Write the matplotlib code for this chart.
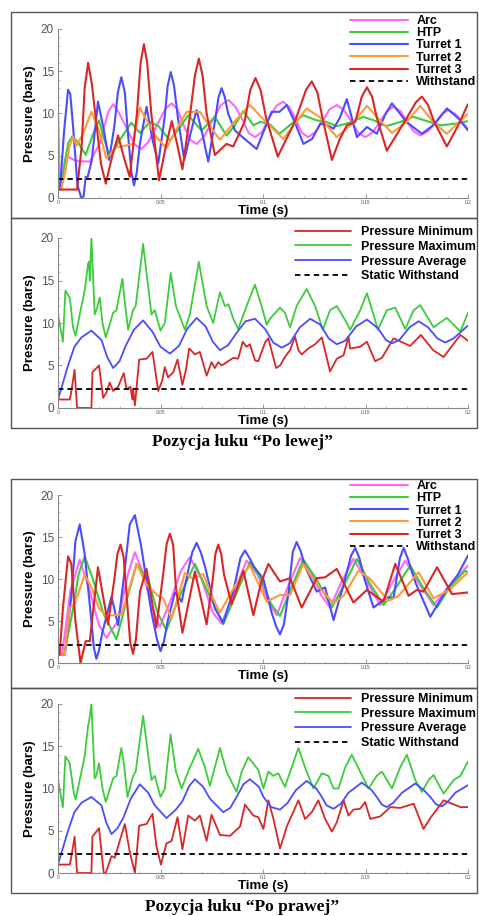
import numpy as np
import matplotlib
matplotlib.use('Agg')
import matplotlib.pyplot as plt
from matplotlib.patches import Rectangle
from matplotlib.ticker import MultipleLocator

plt.rcParams['font.family'] = ['Liberation Sans', 'DejaVu Sans']

# each series: (time in ms, pressure in bars)
# --- left arc position, turret pressures ---
l_arc = [(0, 10.5), (0.8, 1.5), (4.0, 5.0), (7.0, 4.6), (9.0, 4.4), (15.5, 4.3), (20.5, 6.5),
         (24.5, 10.2), (26.9, 11.1), (29.5, 10.2), (33.0, 8.5), (37.5, 6.3), (40.7, 5.8),
         (44.0, 6.6), (48.0, 8.5), (52.5, 10.6), (55.4, 11.2), (58.3, 10.5), (61.0, 8.8),
         (64.5, 6.9), (67.6, 6.4), (71.0, 7.2), (75.0, 9.0), (79.5, 11.0), (83.1, 11.6),
         (86.5, 10.8), (89.5, 9.5), (93.0, 7.7), (96.1, 7.2), (99.5, 7.8), (103.0, 9.5),
         (106.5, 10.9), (109.9, 11.4), (113.0, 10.7), (116.0, 9.3), (119.0, 7.7), (122.1, 7.2),
         (125.5, 7.8), (129.0, 9.1), (132.5, 10.5), (136.0, 11.0), (139.5, 10.4), (143.0, 9.1),
         (146.5, 7.7), (150.0, 7.2), (153.5, 7.8), (157.0, 9.0), (160.5, 10.3), (163.7, 10.8),
         (167.0, 10.3), (170.0, 9.1), (173.5, 7.9), (176.7, 7.4), (180.5, 7.9), (184.0, 8.9),
         (187.5, 10.0), (190.6, 10.4), (194.0, 9.9), (200, 8.2)]
l_htp = [(1.5, 1.0), (3.5, 4.5), (5.0, 6.5), (7.0, 7.3), (10.0, 6.5), (13.5, 5.1), (17.0, 7.5),
         (20.0, 9.2), (22.5, 7.0), (25.2, 4.9), (30.5, 7.0), (35.8, 8.9), (40.0, 7.7), (44.8, 9.0),
         (49.0, 8.5), (54.6, 6.8), (59.0, 8.2), (63.5, 9.8), (70.0, 8.0), (76.5, 9.6), (82.2, 7.4),
         (86.0, 8.5), (90.4, 10.3), (95.3, 8.6), (98.5, 9.0), (103.0, 8.8), (108.0, 7.6),
         (114.0, 8.8), (119.7, 9.8), (126.0, 9.2), (131.0, 9.0), (136.0, 8.5), (142.0, 8.9),
         (148.8, 9.6), (154.0, 9.2), (160.0, 8.5), (167.0, 9.0), (173.5, 9.6), (180.0, 9.1),
         (186.5, 8.6), (194.0, 8.8), (200, 9.1)]
l_t1 = [(0, 1.0), (1.0, 1.2), (3.0, 8.0), (4.9, 12.8), (6.0, 12.3), (7.5, 8.0), (9.5, 1.5),
        (11.4, 0.0), (12.5, 0.2), (13.5, 2.5), (14.5, 2.5), (16.5, 4.5), (19.5, 11.4), (22.0, 8.5),
        (24.9, 4.5), (27.5, 8.5), (29.2, 12.5), (30.9, 14.3), (32.6, 12.5), (34.0, 8.0),
        (35.8, 3.0), (37.1, 1.5), (38.4, 3.0), (40.0, 6.5), (43.2, 10.8), (46.0, 7.0), (48.9, 4.1),
        (52.0, 9.5), (53.5, 13.3), (55.0, 14.9), (56.6, 13.3), (58.5, 9.5), (61.6, 4.5),
        (64.5, 7.5), (67.6, 10.4), (70.5, 7.5), (73.3, 4.3), (76.5, 9.0), (78.3, 11.9),
        (79.8, 13.0), (81.3, 12.0), (83.0, 10.0), (86.3, 8.0), (91.0, 7.0), (96.9, 5.8),
        (100.5, 8.0), (104.2, 10.2), (108.0, 10.2), (111.6, 11.0), (115.5, 9.0), (119.7, 6.4),
        (124.0, 7.0), (127.9, 8.8), (131.5, 8.6), (134.4, 8.2), (137.5, 9.5), (140.9, 11.7),
        (145.8, 7.2), (150.7, 8.4), (155.5, 7.6), (159.5, 9.8), (162.9, 11.2), (170.0, 9.0),
        (177.5, 7.6), (183.5, 8.7), (189.7, 10.6), (195.0, 9.5), (200, 8.0)]
l_t2 = [(1.5, 1.0), (3.5, 3.0), (5.5, 6.0), (7.3, 7.3), (9.0, 6.2), (12.0, 7.5), (16.3, 10.2),
        (20.0, 8.0), (23.6, 4.7), (28.5, 6.0), (33.0, 6.2), (36.6, 6.4), (39.9, 10.7), (44.8, 8.5),
        (48.0, 7.2), (52.9, 5.9), (57.0, 7.8), (62.7, 10.2), (69.2, 10.2), (74.0, 8.5), (79.0, 6.9),
        (86.0, 9.0), (93.6, 11.0), (101.5, 9.0), (109.9, 7.0), (115.5, 8.8), (121.3, 10.6),
        (128.0, 9.5), (136.0, 7.2), (143.5, 8.8), (150.7, 10.9), (157.0, 9.2), (162.9, 7.7),
        (170.0, 9.0), (176.7, 10.9), (183.0, 9.0), (189.7, 7.6), (200, 10.0)]
l_t3 = [(0, 1.0), (9.3, 1.0), (11.5, 6.0), (13.0, 13.0), (14.7, 16.0), (16.5, 13.5), (21.0, 4.0),
        (23.3, 1.7), (26.5, 5.0), (29.3, 7.4), (32.5, 4.5), (35.0, 2.5), (38.5, 10.0), (40.3, 16.0),
        (41.9, 18.2), (43.5, 16.0), (45.5, 10.0), (49.3, 2.1), (52.5, 6.0), (55.5, 9.1), (58.0, 6.5),
        (60.7, 3.4), (64.5, 10.0), (66.8, 14.5), (68.7, 16.5), (70.5, 14.5), (72.5, 10.0),
        (76.5, 5.1), (82.2, 6.4), (85.5, 6.1), (91.0, 9.0), (93.8, 12.8), (96.3, 14.2), (98.8, 12.8),
        (101.5, 9.5), (107.2, 4.9), (115.5, 9.0), (121.0, 12.8), (123.8, 13.8), (126.5, 12.5),
        (129.0, 9.5), (133.6, 4.5), (137.5, 7.0), (140.9, 8.6), (145.0, 9.0), (148.2, 12.0),
        (150.7, 13.1), (153.2, 12.0), (155.5, 9.5), (160.4, 5.6), (169.0, 9.0), (174.5, 11.3),
        (177.5, 12.0), (180.5, 11.0), (183.5, 9.0), (189.7, 6.1), (195.0, 8.5), (200, 11.1)]

# --- left arc position, min / max / average ---
l_min = [(0, 1.0), (5.7, 1.0), (6.2, 1.5), (8.1, 4.5), (9.3, 0.0), (16.3, 0.0), (16.8, 4.2),
         (20.0, 5.0), (22.0, 1.2), (23.6, 1.8), (25.2, 3.0), (26.9, 2.0), (29.3, 2.5), (32.1, 4.1),
         (33.4, 2.2), (35.3, 2.5), (36.3, 1.0), (36.6, 2.3), (37.5, 0.3), (39.6, 5.7), (43.2, 5.8),
         (46.1, 6.6), (48.9, 2.0), (50.8, 3.2), (52.1, 4.8), (53.7, 3.6), (56.2, 4.2), (58.3, 5.7),
         (60.7, 2.7), (62.4, 4.5), (64.0, 7.0), (66.8, 6.3), (69.2, 6.6), (72.5, 3.8), (74.9, 5.4),
         (76.5, 4.7), (78.2, 5.4), (79.8, 5.0), (85.5, 5.9), (87.9, 5.8), (90.1, 7.8), (92.0, 7.2),
         (93.6, 7.5), (96.1, 5.6), (97.7, 5.5), (101.0, 7.7), (102.6, 8.2), (106.4, 4.7),
         (108.3, 5.0), (110.7, 6.0), (113.2, 6.8), (115.6, 8.4), (117.3, 6.8), (118.9, 6.3),
         (122.1, 7.0), (125.4, 7.5), (128.7, 8.3), (132.7, 4.3), (136.0, 5.8), (139.3, 6.2),
         (141.7, 8.4), (142.5, 7.0), (147.4, 7.2), (150.7, 7.8), (154.7, 5.5), (158.0, 5.9),
         (163.7, 8.2), (171.8, 7.3), (177.0, 8.6), (183.0, 6.8), (188.1, 6.0), (196.3, 8.6),
         (200, 7.9)]
l_max = [(0, 11.0), (2.4, 7.8), (3.6, 13.8), (5.7, 13.0), (6.0, 12.5), (7.3, 9.5), (8.6, 8.5),
         (10.6, 11.0), (13.0, 13.8), (14.7, 17.0), (15.1, 17.2), (15.5, 15.0), (16.3, 20.0),
         (17.9, 11.0), (18.7, 11.5), (20.4, 13.0), (21.7, 10.0), (23.3, 8.3), (26.9, 11.2),
         (28.5, 11.5), (31.4, 15.2), (32.1, 13.5), (34.2, 9.2), (36.6, 11.5), (37.9, 12.0),
         (41.5, 19.3), (45.6, 11.0), (47.2, 11.5), (50.0, 9.1), (52.1, 10.0), (55.0, 15.9),
         (57.5, 12.0), (61.9, 9.2), (64.3, 11.0), (68.7, 17.2), (72.5, 12.0), (75.7, 10.0),
         (79.0, 13.6), (81.4, 12.0), (83.1, 12.2), (85.5, 10.5), (87.9, 9.3), (92.0, 12.0),
         (96.1, 14.5), (99.3, 12.0), (101.8, 9.8), (103.4, 10.5), (108.3, 11.8), (110.7, 11.2),
         (113.2, 9.5), (116.4, 12.0), (121.3, 14.0), (125.4, 12.0), (129.2, 9.2), (132.7, 11.5),
         (136.0, 12.0), (140.9, 10.0), (142.5, 9.2), (147.4, 11.5), (150.7, 13.5), (153.9, 11.0),
         (156.0, 9.2), (160.4, 11.5), (164.5, 11.8), (169.4, 9.3), (173.5, 11.5), (176.7, 12.1),
         (183.2, 9.5), (189.7, 10.6), (196.3, 9.0), (200, 11.2)]
l_avg = [(0, 1.0), (4.9, 5.0), (8.0, 7.2), (11.4, 8.3), (16.3, 9.1), (21.2, 8.0), (24.0, 6.0),
         (26.9, 4.7), (30.0, 5.5), (33.0, 7.3), (37.0, 9.2), (41.5, 10.3), (46.0, 9.0), (50.0, 7.2),
         (54.6, 6.4), (59.0, 7.3), (63.0, 9.3), (67.6, 10.6), (72.0, 9.6), (75.5, 7.8), (79.0, 6.8),
         (83.0, 7.4), (87.0, 8.8), (91.5, 10.2), (96.1, 10.5), (101.0, 9.3), (105.0, 7.7),
         (109.1, 7.1), (113.0, 7.6), (118.0, 9.5), (123.0, 10.5), (128.0, 9.8), (132.0, 8.2),
         (136.0, 7.5), (140.0, 7.9), (145.5, 9.6), (150.7, 10.4), (156.0, 9.4), (160.0, 8.0),
         (162.9, 7.6), (166.5, 8.0), (171.5, 9.5), (175.9, 10.2), (180.5, 9.5), (185.0, 8.2),
         (188.9, 7.7), (193.0, 8.2), (200, 9.7)]

# --- right arc position, turret pressures ---
r_arc = [(0, 1.0), (2.0, 1.0), (6.0, 8.5), (10.6, 12.3), (15.0, 9.0), (20.0, 4.5), (23.6, 3.0),
         (29.3, 5.0), (34.0, 10.5), (37.5, 13.2), (41.0, 11.0), (46.0, 6.5), (49.7, 4.3),
         (55.0, 7.5), (60.0, 11.0), (64.3, 12.6), (70.0, 10.0), (75.5, 6.0), (79.8, 4.7),
         (86.0, 8.5), (92.0, 12.2), (97.5, 10.5), (102.0, 7.5), (106.7, 5.7), (112.0, 9.0),
         (118.1, 12.5), (124.0, 10.5), (128.5, 8.0), (132.7, 6.6), (138.0, 9.5), (144.1, 12.4),
         (150.0, 10.0), (157.2, 6.9), (163.0, 9.5), (169.4, 12.2), (176.0, 9.5), (183.2, 6.9),
         (192.0, 9.5), (200, 11.6)]
r_htp = [(0, 1.0), (3.0, 1.0), (7.0, 6.0), (10.0, 10.5), (13.0, 12.7), (17.0, 10.0), (22.0, 6.0),
         (28.5, 2.8), (33.0, 7.0), (38.3, 11.8), (44.0, 10.0), (48.5, 6.0), (52.9, 3.9), (58.5, 7.5),
         (66.8, 11.8), (73.0, 8.5), (80.6, 4.6), (86.5, 8.0), (93.6, 12.0), (99.0, 10.0),
         (104.0, 7.0), (108.3, 5.6), (113.0, 8.5), (119.7, 12.3), (126.0, 10.0), (133.6, 6.6),
         (140.0, 9.5), (145.8, 12.4), (152.0, 9.5), (158.8, 6.9), (165.0, 9.0), (171.8, 11.6),
         (178.0, 9.0), (184.9, 6.6), (191.0, 9.0), (198.7, 11.0), (200, 10.8)]
r_t1 = [(0, 1.0), (3.3, 1.0), (6.5, 8.0), (8.5, 14.5), (10.6, 16.5), (13.0, 13.0), (16.3, 5.0),
        (17.5, 1.8), (18.7, 0.5), (20.0, 1.5), (21.5, 3.5), (26.1, 7.9), (29.3, 4.5), (32.5, 11.0),
        (35.0, 16.5), (37.5, 17.6), (40.5, 14.0), (45.6, 6.0), (48.3, 2.8), (50.0, 1.4),
        (51.7, 2.6), (53.5, 5.0), (57.0, 8.4), (60.3, 7.3), (63.5, 11.0), (65.5, 13.2),
        (67.6, 14.3), (69.6, 13.2), (71.7, 11.5), (76.5, 6.5), (80.6, 4.8), (85.5, 8.5),
        (89.0, 12.5), (91.2, 13.4), (93.4, 12.5), (95.5, 11.5), (100.2, 10.0), (104.2, 6.0),
        (106.5, 4.3), (108.3, 3.4), (110.2, 4.6), (112.5, 8.5), (114.5, 13.2), (116.4, 14.4),
        (118.4, 13.3), (120.5, 11.5), (126.2, 8.5), (130.3, 9.0), (134.4, 5.1), (139.5, 9.5),
        (143.0, 12.8), (145.0, 13.7), (147.0, 12.5), (149.5, 10.0), (153.9, 6.6), (160.4, 7.8),
        (163.7, 7.8), (166.8, 12.5), (168.6, 13.7), (170.5, 12.5), (174.5, 9.5), (181.6, 5.5),
        (189.7, 8.8), (195.0, 10.5), (200, 12.8)]
r_t2 = [(0, 1.0), (3.3, 1.0), (5.7, 6.6), (8.1, 7.0), (13.0, 10.5), (16.3, 9.0), (20.0, 6.5),
        (23.6, 5.6), (27.7, 5.7), (31.0, 5.8), (38.3, 11.8), (43.2, 9.3), (48.9, 8.0), (51.3, 7.7),
        (55.4, 5.3), (61.9, 10.7), (66.0, 10.0), (70.8, 10.6), (75.0, 8.0), (79.0, 6.0), (86.3, 9.2),
        (93.6, 11.6), (101.8, 7.3), (108.3, 8.1), (113.2, 8.1), (119.7, 11.8), (126.2, 9.3),
        (134.4, 7.1), (139.3, 8.0), (146.6, 11.0), (152.3, 10.0), (161.2, 7.4), (166.1, 8.0),
        (175.9, 10.8), (183.2, 7.7), (191.4, 8.8), (200, 10.8)]
r_t3 = [(0, 1.0), (0.8, 1.0), (2.4, 6.5), (4.9, 12.7), (6.5, 11.8), (8.5, 5.0), (11.0, 0.0),
        (13.5, 2.6), (15.5, 2.6), (19.5, 11.4), (24.4, 4.6), (27.5, 10.0), (29.0, 13.0),
        (30.5, 14.1), (32.0, 12.6), (33.5, 8.0), (35.2, 2.5), (36.6, 1.1), (38.0, 2.8), (40.0, 8.5),
        (43.2, 11.2), (48.0, 4.2), (51.5, 11.0), (53.0, 14.2), (54.6, 15.4), (56.2, 14.0),
        (57.5, 9.0), (60.7, 3.6), (66.8, 10.9), (72.5, 4.6), (75.5, 10.0), (76.8, 13.0),
        (78.2, 14.1), (79.6, 13.0), (81.0, 10.5), (84.7, 7.0), (90.4, 11.0), (95.3, 5.7),
        (99.0, 9.5), (102.6, 11.8), (108.3, 9.7), (113.2, 10.1), (118.9, 6.6), (126.2, 10.1),
        (130.3, 10.2), (136.0, 11.2), (144.1, 7.2), (150.7, 8.7), (158.8, 7.3), (164.5, 11.8),
        (171.0, 8.0), (175.1, 8.7), (178.3, 8.5), (184.9, 11.4), (192.2, 8.2), (200, 8.4)]

# --- right arc position, min / max / average ---
r_min = [(0, 1.0), (5.7, 1.0), (6.2, 1.5), (8.1, 4.3), (9.3, 0.0), (16.3, 0.0), (16.8, 4.3),
         (20.0, 5.3), (22.3, 0.0), (23.3, 0.0), (26.1, 2.0), (27.7, 1.8), (30.1, 3.8), (32.6, 5.8),
         (35.0, 2.5), (37.5, 0.0), (39.6, 5.6), (43.2, 5.8), (46.1, 7.0), (48.0, 3.2), (50.2, 1.0),
         (52.9, 3.5), (55.4, 3.8), (58.3, 6.6), (60.7, 2.8), (63.5, 6.8), (66.8, 6.2), (69.2, 6.8),
         (72.5, 3.8), (74.9, 6.9), (79.0, 4.5), (83.9, 4.4), (88.8, 5.5), (91.2, 8.1), (95.3, 6.8),
         (97.7, 6.6), (100.2, 5.2), (102.6, 8.6), (105.0, 6.5), (108.3, 2.9), (111.6, 5.5),
         (117.3, 8.6), (120.5, 6.4), (123.8, 7.2), (127.0, 8.6), (130.3, 6.4), (133.6, 4.9),
         (136.0, 6.0), (139.3, 8.6), (141.7, 6.8), (144.1, 7.5), (147.4, 7.6), (149.8, 8.4),
         (152.3, 6.4), (157.2, 6.7), (162.1, 7.8), (166.9, 7.7), (173.5, 8.2), (178.3, 5.2),
         (181.6, 6.5), (188.1, 8.6), (196.3, 7.8), (200, 7.8)]
r_max = [(0, 11.0), (2.4, 7.8), (3.6, 13.8), (5.7, 13.0), (7.7, 9.5), (8.6, 8.7), (10.6, 11.0),
         (13.0, 13.8), (14.7, 17.5), (15.1, 17.8), (16.3, 20.0), (17.9, 11.2), (18.7, 11.5),
         (20.0, 13.0), (21.7, 10.0), (23.3, 8.4), (26.9, 11.2), (28.5, 11.5), (30.9, 14.8),
         (32.1, 13.0), (33.9, 9.0), (36.6, 11.5), (37.9, 12.0), (41.5, 18.6), (45.6, 11.0),
         (47.2, 11.5), (50.0, 9.0), (52.1, 10.0), (54.9, 16.4), (57.5, 12.0), (60.3, 10.0),
         (63.5, 12.0), (68.4, 14.7), (71.7, 12.5), (74.1, 10.3), (76.5, 12.5), (79.0, 14.8),
         (82.2, 12.0), (87.1, 9.6), (89.6, 12.0), (92.8, 13.7), (97.7, 12.2), (100.2, 10.0),
         (102.6, 12.0), (105.0, 11.5), (107.5, 11.8), (110.7, 10.2), (114.0, 12.5), (117.3, 14.8),
         (120.5, 12.5), (124.6, 10.0), (128.7, 11.8), (131.9, 11.5), (134.4, 10.0), (136.8, 10.0),
         (140.1, 12.5), (143.3, 14.0), (147.4, 12.0), (151.5, 10.0), (155.5, 11.5), (158.0, 12.0),
         (162.9, 10.0), (166.9, 12.5), (170.2, 14.0), (174.3, 11.0), (177.5, 9.6), (180.8, 11.0),
         (183.2, 11.6), (188.1, 9.4), (193.0, 11.0), (196.3, 11.5), (200, 13.2)]
r_avg = [(0, 1.0), (4.9, 5.0), (8.0, 7.2), (11.4, 8.3), (16.3, 9.0), (21.2, 8.0), (23.5, 6.0),
         (26.1, 4.6), (29.0, 5.3), (31.8, 6.5), (35.5, 8.8), (39.9, 10.5), (44.0, 9.5), (47.2, 8.0),
         (52.9, 6.5), (57.5, 7.5), (60.7, 8.5), (64.0, 10.3), (66.8, 11.1), (70.8, 10.2),
         (74.1, 8.8), (80.6, 7.2), (84.0, 7.7), (87.1, 9.0), (90.5, 10.5), (93.6, 11.1),
         (98.0, 10.2), (100.2, 9.0), (104.0, 7.8), (108.3, 7.5), (112.0, 8.3), (116.0, 9.8),
         (121.3, 10.9), (126.0, 10.0), (128.7, 9.0), (131.0, 8.0), (134.4, 7.6), (138.0, 8.2),
         (141.7, 9.5), (148.2, 10.7), (153.0, 9.8), (155.5, 9.0), (158.0, 8.1), (160.4, 7.8),
         (163.5, 8.3), (167.8, 9.5), (174.3, 10.6), (178.5, 9.8), (181.6, 9.0), (184.5, 8.1),
         (187.3, 7.9), (190.0, 8.4), (193.8, 9.5), (200, 10.4)]

withstand = 2.2  # bars
turret_labels = ['Arc', 'HTP', 'Turret 1', 'Turret 2', 'Turret 3', 'Withstand']
stat_labels = ['Pressure Minimum', 'Pressure Maximum', 'Pressure Average', 'Static Withstand']
captions = ['Pozycja łuku \u201cPo lewej\u201d', 'Pozycja łuku \u201cPo prawej\u201d']

turret_colors = ['#ff66ff', '#3ccc3c', '#4b4bff', '#ff9a3c', '#d92626']
stat_colors = ['#d92626', '#3ccc3c', '#4b4bff']

W, H = 479, 916
fig = plt.figure(figsize=(W / 100, H / 100), dpi=100)


def px_axes(x0, y0, x1, y1):
    # pixel box (top-left origin) -> axes
    return fig.add_axes([x0 / W, 1 - y1 / H, (x1 - x0) / W, (y1 - y0) / H])


def style_axes(ax):
    ax.set_xlim(0, 0.2)
    ax.set_ylim(0, 20)
    ax.set_xticks([0, 0.05, 0.1, 0.15, 0.2])
    ax.set_xticklabels(['0', '0.05', '0.1', '0.15', '0.2'])
    ax.set_yticks([0, 5, 10, 15, 20])
    ax.xaxis.set_minor_locator(MultipleLocator(0.01))
    ax.yaxis.set_minor_locator(MultipleLocator(1))
    for s in ['top', 'right']:
        ax.spines[s].set_visible(False)
    for s in ['left', 'bottom']:
        ax.spines[s].set_color('#888888')
        ax.spines[s].set_linewidth(0.8)
    ax.tick_params(axis='x', which='major', direction='in', length=3, width=0.6,
                   color='#888888', labelsize=3.5, labelcolor='#555555', pad=1.5)
    ax.tick_params(axis='y', which='major', direction='in', length=3, width=0.6,
                   color='#888888', labelsize=8.5, labelcolor='#555555', pad=3)
    ax.tick_params(which='minor', direction='in', length=1.5, width=0.5, color='#aaaaaa')
    ax.set_xlabel('Time (s)', fontsize=9.5, fontweight='bold', labelpad=0)
    ax.set_ylabel('Pressure (bars)', fontsize=9.5, fontweight='bold', labelpad=3)
    ax.patch.set_alpha(0)


def plot_series(ax, pts, color, lw):
    t = np.array([p[0] for p in pts]) / 1000.0
    v = np.array([p[1] for p in pts])
    ax.plot(t, v, color=color, lw=lw, solid_joinstyle='round', solid_capstyle='round')


def turret_panel(box, series, leg_xy):
    ax = px_axes(*box)
    for pts, c in zip(series, turret_colors):
        plot_series(ax, pts, c, 1.5)
    ax.axhline(withstand, color='black', lw=1.3, ls=(0, (3, 2.2)))
    style_axes(ax)
    handles = ax.get_lines()
    ax.legend(handles, turret_labels, loc='upper left',
              bbox_to_anchor=(leg_xy[0] / W, 1 - leg_xy[1] / H),
              bbox_transform=fig.transFigure, frameon=False,
              prop={'weight': 'bold', 'size': 9}, handlelength=4.6,
              handletextpad=0.7, labelspacing=0.02, borderpad=0, borderaxespad=0)
    return ax


def stat_panel(box, series, leg_xy):
    ax = px_axes(*box)
    for pts, c in zip(series, stat_colors):
        plot_series(ax, pts, c, 1.3)
    ax.axhline(withstand, color='black', lw=1.3, ls=(0, (3, 2.2)))
    style_axes(ax)
    handles = ax.get_lines()
    ax.legend(handles, stat_labels, loc='upper left',
              bbox_to_anchor=(leg_xy[0] / W, 1 - leg_xy[1] / H),
              bbox_transform=fig.transFigure, frameon=False,
              prop={'weight': 'bold', 'size': 9}, handlelength=4.5,
              handletextpad=0.8, labelspacing=0.22, borderpad=0, borderaxespad=0)
    return ax


# panel frames
for y0, y1 in [(12, 218), (218, 428), (479, 688), (688, 893)]:
    fig.patches.append(Rectangle((11 / W, 1 - y1 / H), (477 - 11) / W, (y1 - y0) / H,
                                 transform=fig.transFigure, fill=False,
                                 edgecolor='#555555', lw=1.0))

turret_panel((58, 29, 468, 198), [l_arc, l_htp, l_t1, l_t2, l_t3], (350, 15))
stat_panel((58, 238, 468, 408), [l_min, l_max, l_avg], (295, 226))
turret_panel((58, 495, 468, 663), [r_arc, r_htp, r_t1, r_t2, r_t3], (350, 480))
stat_panel((58, 704, 468, 873), [r_min, r_max, r_avg], (295, 693))

for cap, y in zip(captions, [442, 907]):
    fig.text(242 / W, 1 - y / H, cap, ha='center', va='center', fontsize=12.5,
             fontweight='bold', family=['Liberation Serif', 'DejaVu Serif'])

fig.savefig('out.png', dpi=100)
